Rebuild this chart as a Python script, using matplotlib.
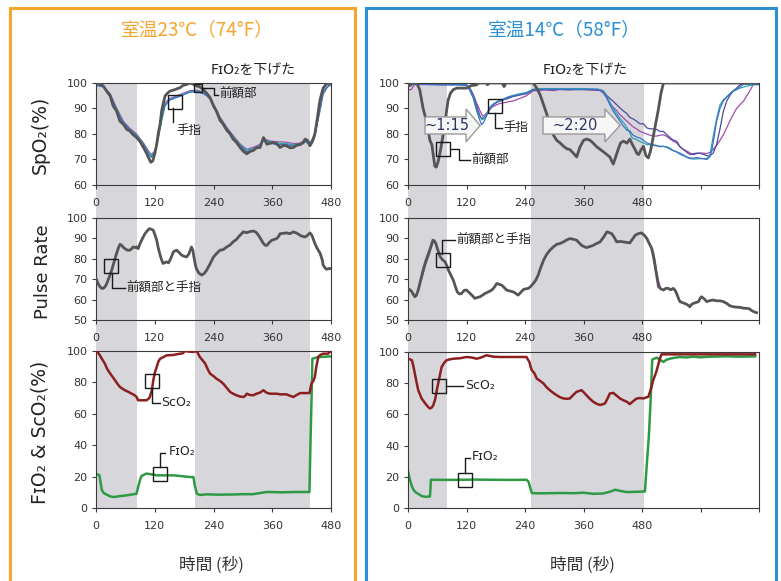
#!/usr/bin/env python

import numpy
import matplotlib
matplotlib.use("Agg")
import matplotlib.pyplot as plt
from matplotlib.patches import Rectangle, Polygon

JP = ['Noto Sans CJK JP', 'DejaVu Sans']
LAT = ['DejaVu Sans', 'Noto Sans CJK JP']

# ---------------- 23C (74F) room ----------------
warm_spo2_head = [(0, 100), (8, 99.6), (15, 98.8), (22, 96.7), (29, 94.9), (35, 91), (42, 89), (49, 85),
                  (56, 83.8), (63, 81.8), (69, 81.2), (76, 79.7), (83, 78.6), (90, 77), (97, 74.7),
                  (103, 72.5), (107, 70.8), (112, 68.9), (116, 69.5), (120, 72.2), (124, 76), (127, 80),
                  (131, 84), (134, 89), (138, 92.5), (141, 94.9), (146, 96), (151, 96.8), (158, 97.2),
                  (165, 97.7), (172, 98.2), (178, 99.1), (185, 99.4), (192, 100), (199, 99.5), (206, 98.8),
                  (212, 98.5), (219, 97.5), (226, 96), (233, 94.3), (240, 91), (246, 89), (253, 85.5),
                  (260, 83.8), (267, 81.5), (274, 80), (280, 78), (287, 76.7), (294, 74.8), (301, 73.2),
                  (308, 72.2), (315, 73.2), (321, 73.5), (328, 74.6), (335, 74.7), (342, 78.6), (345, 77.5),
                  (349, 76), (355, 76.3), (362, 76.7), (369, 76.2), (376, 74.7), (383, 75.5), (389, 75.4),
                  (396, 74.6), (403, 74.7), (410, 75.6), (417, 76), (423, 76.5), (427, 78), (432, 77.5),
                  (437, 75.4), (442, 77), (447, 80), (452, 86), (457, 92.8), (461, 96), (464, 98),
                  (470, 99.5), (478, 100), (480, 100)]
warm_spo2_blue = [(0, 99), (15, 98.5), (29, 95.5), (42, 89.5), (56, 84.2), (69, 81.6), (83, 79.2), (97, 75.5),
                  (107, 72), (113, 70.8), (120, 72.5), (127, 79), (134, 86), (141, 91.5), (151, 93.3),
                  (165, 94.3), (178, 95.3), (192, 96.4), (206, 96.6), (219, 95.8), (226, 95), (233, 93.6),
                  (240, 91), (253, 86), (267, 82), (280, 78.5), (294, 75.5), (308, 73), (321, 73.8),
                  (335, 75), (342, 77.5), (355, 76.5), (369, 75.8), (389, 75.8), (403, 75.3), (417, 75.5),
                  (427, 77), (437, 75.8), (447, 79), (457, 90), (464, 96.5), (472, 98.5), (480, 99.3)]
warm_spo2_teal = [(0, 99.4), (15, 98.6), (29, 95.2), (42, 89.8), (56, 84.5), (69, 81.8), (83, 79.6), (97, 76),
                  (107, 72.8), (113, 71.5), (120, 73), (127, 78), (134, 85), (141, 91), (151, 93.6),
                  (165, 94.6), (178, 95.6), (192, 96.6), (206, 96.9), (219, 96.2), (226, 95.3), (233, 93.8),
                  (240, 91.5), (253, 86.5), (267, 82.3), (280, 79), (294, 75.8), (308, 73.6), (321, 74.3),
                  (335, 75.5), (342, 77.8), (355, 77), (369, 76.5), (389, 76.2), (403, 75.8), (417, 76),
                  (427, 77.3), (437, 76.2), (447, 79.5), (457, 89), (464, 96), (472, 98.3), (480, 99.5)]
warm_spo2_purple = [(0, 99.2), (15, 98.9), (29, 95.8), (42, 90.3), (56, 85), (69, 82.3), (83, 80), (97, 76.5),
                    (107, 73.5), (113, 71.9), (120, 73.4), (127, 78.5), (134, 86.5), (141, 92.3), (151, 94),
                    (165, 95), (178, 96), (192, 97), (206, 97.2), (219, 96.5), (233, 94.2), (240, 91.8),
                    (253, 86.8), (267, 82.7), (280, 79.5), (294, 76.2), (308, 74), (321, 74.8), (335, 76),
                    (342, 78.2), (355, 77.3), (369, 77), (389, 76.8), (403, 76.3), (417, 76.4), (427, 77.8),
                    (437, 76.5), (447, 80), (457, 88.5), (464, 95.5), (472, 98.2), (480, 99.6)]

warm_pulse = [(0, 70.4), (4, 68), (8, 66.3), (12, 65.5), (15, 65.5), (19, 66.5), (22, 67.9), (27, 71),
              (32, 74.4), (37, 78.5), (42, 82.6), (46, 85.5), (49, 87.1), (53, 86.5), (56, 85.5), (59, 85),
              (64, 84.2), (69, 84.2), (73, 85), (76, 85.8), (80, 85.5), (83, 85.8), (86, 85), (90, 87.5),
              (95, 90), (100, 92.3), (105, 93.8), (109, 94.8), (113, 94.5), (117, 94), (120, 92), (124, 89.1),
              (127, 85.5), (131, 81.8), (134, 79.5), (137, 77.7), (141, 78.2), (144, 78.5), (148, 78),
              (151, 79.3), (155, 81.5), (158, 83.4), (162, 84), (165, 84.2), (170, 83), (175, 81.8),
              (180, 81.2), (185, 80.9), (190, 82.5), (195, 85.8), (198, 84), (200, 80.9), (203, 77),
              (205, 75.2), (210, 73), (216, 72), (221, 72.8), (226, 74.4), (233, 77.5), (240, 80.9),
              (246, 82.5), (253, 84.2), (260, 84.5), (267, 85.8), (274, 86.8), (280, 88.3), (287, 89.5),
              (291, 90.7), (296, 92), (301, 93.2), (308, 92.8), (315, 93.4), (322, 93.6), (327, 93),
              (332, 91.5), (337, 89.5), (342, 87.5), (346, 86.6), (349, 86.6), (354, 88), (359, 89.1),
              (364, 89.5), (369, 89.9), (373, 91), (376, 92.3), (383, 92.5), (389, 92.7), (396, 92.3),
              (403, 93.2), (410, 92.6), (417, 91.5), (422, 91), (427, 90.7), (432, 91.5), (437, 92.7),
              (441, 91.5), (444, 89.5), (447, 87.5), (452, 85), (458, 82.6), (462, 79.5), (464, 76.9),
              (468, 75.5), (471, 74.9), (476, 75.2), (480, 75.2)]

warm_sco2 = [(0, 100), (4, 99), (8, 97.2), (13, 94.5), (18, 92), (23, 88.5), (29, 85.6), (34, 83.5), (39, 81.3),
             (44, 79), (49, 77.1), (54, 76), (59, 75), (66, 74), (73, 72.8), (78, 72), (83, 70.7), (86, 68.6),
             (95, 68.6), (103, 68.6), (107, 69.5), (110, 70.7), (114, 75), (117, 81.3), (120, 86), (124, 89.8),
             (127, 93), (131, 95.1), (137, 96), (144, 97.2), (158, 97.5), (172, 98.3), (177, 98.5), (182, 100),
             (190, 99.6), (199, 99.4), (206, 100), (209, 98), (212, 96.2), (218, 94), (223, 92), (228, 88.5),
             (233, 85.6), (240, 84), (246, 82.4), (253, 81), (260, 79.2), (267, 76.5), (274, 73.9), (280, 72.8),
             (287, 71.8), (294, 71), (301, 70.7), (305, 71.5), (308, 72.8), (314, 72), (321, 71.8), (328, 72.8),
             (335, 73.5), (342, 75), (348, 73.5), (355, 72.8), (362, 72.8), (369, 72.8), (376, 72.4),
             (383, 72.4), (389, 72.4), (396, 71.5), (403, 70.7), (410, 72), (417, 73.2), (426, 73.2),
             (436, 73.2), (440, 79.2), (444, 81), (447, 83.4), (450, 90), (454, 96.2), (458, 97.5), (464, 98.3),
             (470, 98.3), (474, 98.3), (478, 99.5), (480, 100)]
warm_fio2 = [(0, 21.9), (7, 20.8), (10, 15), (12, 11.3), (16, 9.5), (22, 8.5), (28, 7.5), (35, 7), (42, 7.2),
             (49, 7.6), (56, 7.8), (63, 8.1), (73, 8.6), (83, 9.1), (86, 13.4), (90, 18), (93, 20.4), (98, 21.2),
             (103, 21.9), (113, 21.5), (124, 20.8), (140, 20.8), (158, 20.8), (175, 20.3), (192, 19.7),
             (199, 19.7), (202, 14), (206, 9.1), (212, 8.3), (226, 8.7), (250, 8.5), (280, 8.6), (300, 8.8),
             (320, 8.8), (349, 10.2), (380, 10), (410, 10.2), (436, 10.2), (438, 40), (440, 66.5), (442, 95.1),
             (450, 95.8), (457, 96.2), (470, 96.4), (480, 96.6)]

# ---------------- 14C (58F) room ----------------
cold_spo2_head = [(0, 99.3), (4, 99), (8, 99.8), (11, 100), (18, 100), (24, 97.4), (31, 90), (38, 85),
                  (45, 77.5), (49, 75.8), (52, 71.5), (55, 67.4), (58, 67), (62, 69.3), (67, 74), (72, 79.7),
                  (77, 86), (82, 93), (87, 96), (93, 97.4), (100, 98), (110, 98), (120, 98), (130, 99),
                  (140, 99.2), (145, 100), (160, 100), (163, 99.3), (167, 100), (193, 100), (197, 98.6),
                  (201, 100), (257, 100), (264, 98), (271, 95.4), (278, 91.5), (285, 87.6), (291, 83.5),
                  (298, 79.7), (305, 77.5), (312, 76.5), (319, 75.2), (326, 74.2), (332, 73.9), (339, 72.5),
                  (346, 71), (353, 75), (360, 77.5), (366, 78), (373, 77.6), (380, 76.4), (387, 75), (394, 74),
                  (401, 73), (408, 71.9), (414, 71), (421, 68.2), (426, 71), (431, 73.9), (436, 76.5),
                  (442, 77.2), (449, 76.4), (455, 78), (462, 75.2), (466, 73.9), (469, 72.5), (473, 71.9),
                  (478, 73.8), (483, 75.2), (488, 71.5), (493, 70.6), (497, 73), (500, 75.8), (506, 82),
                  (513, 89), (519, 96), (524, 100), (720, 100)]
cold_spo2_blue = [(0, 99.3), (20, 99.5), (60, 99.3), (100, 99.3), (120, 99), (127, 97), (134, 94), (141, 89),
                  (148, 85), (151, 83.7), (155, 84.5), (162, 87.5), (168, 90), (175, 91.5), (182, 92.5),
                  (189, 93), (196, 93.5), (203, 94.2), (216, 94.9), (230, 95.5), (243, 96), (250, 96.7),
                  (257, 97.4), (270, 97.5), (300, 97.5), (330, 97.5), (360, 97.5), (390, 97.5), (400, 96.5),
                  (407, 94.5), (414, 91.5), (421, 89), (428, 87), (435, 85), (442, 83), (449, 81.5),
                  (455, 81.2), (462, 79.5), (469, 78.8), (476, 78.4), (483, 77.5), (490, 76.5), (497, 76),
                  (503, 75.8), (510, 75.5), (517, 75), (524, 75.2), (531, 74.8), (538, 74), (544, 73.5),
                  (551, 73), (558, 72.5), (565, 71.8), (572, 71), (579, 70.6), (586, 70.5), (592, 70.8),
                  (599, 70.5), (606, 70.3), (613, 70), (619, 71), (623, 73.3), (628, 79), (633, 85), (640, 90),
                  (647, 93), (654, 94.5), (660, 95.5), (667, 96.8), (674, 97.4), (681, 98.5), (688, 99.5),
                  (700, 99.6), (720, 99.5)]
cold_spo2_teal = [(0, 99.6), (30, 99.6), (60, 99.4), (100, 99.4), (120, 99.2), (127, 97.5), (134, 94.5),
                  (141, 89.5), (148, 86.5), (152, 85.6), (156, 86), (162, 88), (168, 90.5), (175, 91.8),
                  (182, 92.6), (189, 93.3), (196, 93.8), (203, 94.4), (216, 95.2), (230, 95.8), (243, 96.3),
                  (250, 96.9), (257, 97.6), (270, 97.8), (300, 97.8), (330, 97.8), (360, 97.8), (390, 97.6),
                  (400, 96.8), (407, 95), (414, 92.5), (421, 90), (428, 88), (435, 86), (442, 84.5), (449, 82.5),
                  (455, 80.5), (460, 78.4), (469, 77.8), (476, 77), (483, 76.5), (490, 75.8), (497, 75.8),
                  (503, 75.5), (517, 75.2), (531, 75), (538, 74.4), (544, 73.5), (551, 73), (558, 72),
                  (565, 71.5), (572, 70.8), (579, 70.3), (586, 70.2), (599, 70.3), (613, 70.4), (619, 71.5),
                  (626, 79), (633, 86), (640, 91.4), (647, 93.5), (654, 94.6), (661, 96), (667, 97), (681, 98),
                  (695, 98.8), (708, 99.3), (720, 99.3)]
cold_spo2_purple = [(0, 97.4), (7, 97.4), (10, 98.5), (14, 99.4), (40, 99.4), (80, 99.3), (110, 99.3),
                    (120, 99.3), (127, 98), (134, 95.5), (141, 92), (148, 89), (153, 87), (158, 87.5), (165, 89),
                    (172, 90.5), (182, 91.5), (189, 92), (203, 92.5), (216, 93), (230, 94), (243, 95), (250, 96),
                    (257, 97), (265, 97), (280, 97.3), (300, 97), (310, 97.6), (330, 97.3), (350, 97.6),
                    (370, 97.3), (394, 97), (401, 96), (408, 94), (414, 92), (421, 90.5), (428, 89.2),
                    (435, 87.5), (442, 86.3), (449, 85), (455, 84), (462, 82.8), (469, 82), (476, 81), (483, 80.5),
                    (490, 80), (497, 79.5), (503, 79.2), (510, 79.2), (517, 79.5), (524, 79.7), (531, 79),
                    (538, 78), (544, 77.2), (551, 76.5), (558, 75), (565, 73.9), (572, 73.3), (579, 72.5),
                    (586, 71.9), (592, 72.3), (599, 72.5), (606, 72.5), (613, 72.3), (619, 72.8), (626, 73.9),
                    (633, 75.5), (640, 77.5), (647, 79.7), (654, 82.5), (660, 85), (667, 87.6), (674, 90),
                    (681, 91.5), (688, 92.8), (695, 95), (701, 96.8), (708, 99.4), (720, 99.5)]
cold_spo2_navy = [(0, 99.6), (40, 99.6), (100, 99.5), (120, 99.3), (127, 97.8), (134, 95), (141, 91), (148, 87),
                  (152, 86), (158, 86.8), (165, 89), (172, 91), (182, 92.4), (189, 93), (203, 93.8), (216, 94.7),
                  (230, 95.3), (243, 95.8), (257, 97.2), (270, 97.4), (300, 97.4), (330, 97.4), (360, 97.4),
                  (394, 97.4), (401, 96.8), (408, 95), (414, 94), (421, 92.8), (428, 91.5), (435, 90.2),
                  (442, 89), (449, 88), (455, 86.5), (462, 85.9), (469, 85), (476, 84), (483, 84), (490, 82.4),
                  (497, 82), (503, 82), (510, 81.8), (517, 81), (524, 81), (531, 79.7), (538, 78.5), (544, 77.6),
                  (551, 77.2), (558, 75), (565, 73.9), (572, 72.8), (579, 71.9), (586, 72.3), (592, 72.5),
                  (599, 72.5), (606, 72), (613, 71.5), (619, 71.4), (626, 72.5), (633, 75.8), (640, 82),
                  (647, 89), (654, 93), (661, 95.4), (667, 96.8), (674, 98), (681, 99.3), (695, 99.8),
                  (720, 99.8)]

cold_pulse = [(0, 65.5), (4, 64.8), (8, 63.8), (11, 62.5), (14, 61.4), (17, 62), (21, 64.7), (26, 69.5),
              (31, 74.4), (36, 78.5), (42, 82.6), (47, 86), (51, 89.1), (54, 88.8), (57, 87.5), (61, 84.5),
              (66, 81), (71, 79.5), (76, 78.5), (80, 76.5), (83, 74.4), (88, 72), (93, 69.5), (97, 66.5),
              (101, 63.8), (105, 62.8), (110, 63), (115, 64.5), (120, 64.7), (125, 63.5), (131, 62.2),
              (137, 60.6), (142, 61), (148, 61.4), (153, 62.2), (158, 63), (165, 63.8), (172, 64.7), (177, 66),
              (182, 67.9), (187, 67.5), (192, 67.1), (197, 66), (202, 64.7), (209, 64.2), (216, 63.8), (221, 63),
              (226, 62.2), (231, 63.5), (237, 65), (242, 65.3), (247, 65.5), (252, 66.5), (257, 67.9),
              (262, 69.5), (267, 72), (272, 75.5), (278, 79.3), (284, 82), (291, 84.2), (298, 85.8),
              (305, 87.1), (312, 87.5), (319, 88.3), (326, 89.3), (332, 89.9), (339, 89.6), (346, 89.1),
              (351, 87.8), (356, 86.6), (361, 86), (366, 85.5), (373, 86), (380, 86.6), (387, 87.5), (394, 88.3),
              (401, 90.5), (408, 93.2), (413, 92.8), (418, 92.3), (423, 90.5), (428, 88.3), (435, 88.5),
              (442, 88.3), (449, 88), (455, 87.8), (460, 89.5), (466, 91.5), (472, 92.3), (479, 92.7),
              (485, 91.5), (490, 89.9), (495, 87.5), (500, 85), (504, 80.5), (507, 76.1), (511, 70.5),
              (514, 66.3), (519, 65.2), (524, 64.7), (529, 65.5), (534, 65.5), (539, 64.8), (544, 65.5),
              (548, 64.5), (551, 63), (555, 60.5), (558, 59), (563, 58.5), (568, 58.1), (573, 57.5), (578, 56.5),
              (581, 57.5), (585, 58.1), (590, 58.5), (596, 59), (599, 60.5), (602, 61.4), (607, 60.5), (613, 59),
              (619, 59.5), (626, 59.8), (633, 59.4), (640, 59.4), (647, 59), (654, 58.1), (660, 57), (667, 56.5),
              (674, 56.3), (681, 56.2), (688, 55.8), (695, 55.7), (700, 55.5), (705, 54.6), (710, 54),
              (715, 53.6)]
cold_pulse_purple_a = [(20, 64), (26, 68.5), (31, 72.5), (36, 77), (42, 81), (47, 84.8), (51, 88)]
cold_pulse_purple_b = [(500, 85.5), (504, 82.5), (507, 79), (510, 74), (514, 69), (518, 66)]

cold_sco2 = [(0, 95.7), (4, 95.3), (8, 94.7), (11, 91), (14, 86.2), (18, 80), (21, 75.5), (25, 72.5), (28, 70.2),
             (33, 68), (38, 66), (42, 64.5), (45, 63.8), (49, 64.5), (52, 66), (56, 70), (59, 75.5), (64, 83),
             (69, 90.4), (74, 93), (79, 94.7), (86, 95.3), (93, 95.7), (107, 96), (120, 96.8), (130, 96.5),
             (141, 95.7), (150, 96.5), (161, 97.9), (175, 97), (189, 96.8), (210, 96.8), (230, 96.8),
             (243, 96.8), (249, 93.6), (252, 90), (254, 88.3), (257, 87.2), (260, 86), (264, 83), (271, 81.5),
             (278, 79.8), (284, 77.5), (291, 75.5), (298, 73.8), (305, 72.3), (312, 71), (319, 70.2), (326, 70),
             (332, 70.2), (339, 72.5), (346, 74.5), (351, 75), (356, 75.5), (361, 74), (366, 72.3), (373, 70),
             (380, 68.1), (387, 66.8), (394, 66), (399, 66.5), (404, 67), (409, 70), (414, 73.4), (421, 73.8),
             (428, 72), (435, 70.2), (442, 69), (449, 68.1), (455, 66.6), (462, 68.5), (469, 70.2), (476, 70.5),
             (483, 70.2), (488, 70.8), (493, 71.3), (498, 76), (503, 81.9), (509, 87), (514, 92.6), (517, 96),
             (520, 98.5), (550, 98.5), (600, 98.5), (650, 98.5), (700, 98.5), (712, 98.5)]
cold_fio2 = [(0, 23.4), (4, 18.1), (8, 14), (11, 11.7), (16, 10), (21, 9.1), (26, 8), (31, 7.4), (38, 7.2),
             (45, 7.4), (46, 12), (47, 18.1), (52, 18.1), (80, 18), (107, 18.1), (140, 18.2), (175, 18.1),
             (210, 18), (243, 18.1), (247, 17), (250, 13.8), (254, 9.6), (270, 9.4), (290, 9.5), (312, 9.6),
             (340, 9.5), (360, 9.8), (380, 9.1), (400, 9.3), (415, 10.5), (425, 11.7), (435, 11), (449, 10.2),
             (470, 10.4), (486, 10.6), (490, 28.7), (494, 45.7), (498, 71.3), (501, 95.1), (510, 96.4),
             (517, 95), (524, 93.6), (530, 95), (537, 95.7), (545, 96.2), (558, 96.8), (570, 96.5), (585, 97),
             (600, 96.6), (620, 97), (654, 97.2), (680, 97), (712, 97.2)]

# periods of lowered FIO2 (seconds)
warm_shade = [(0, 84), (202, 437)]
cold_shade = [(0, 80), (252, 484)]

W, H = 781, 581
HEAD = '#555555'
BLUE, TEAL, PURPLE, NAVY = '#3f6fc8', '#2aa3a8', '#a24bb0', '#4a4a9e'
RED, GREEN = '#8c1f1f', '#2f9a45'
SHADE = '#d6d6db'


def rect(x0, y0, x1, y1):
    return [x0/W, 1 - y1/H, (x1 - x0)/W, (y1 - y0)/H]


def series(ax, pts, color, lw, z=2):
    arr = numpy.array(pts, dtype=float)
    ax.plot(arr[:, 0], arr[:, 1], color=color, lw=lw, zorder=z, solid_joinstyle='round')


def make_axes(fig, x0, x1, y0, y1, tmax, yticks, nlabels):
    ax = fig.add_axes(rect(x0, y0, x1, y1))
    ax.set_facecolor('none')
    ax.set_xlim(0, tmax)
    ax.set_ylim(yticks[0], yticks[-1])
    xt = list(range(0, tmax + 1, 120))
    ax.set_xticks(xt)
    ax.set_xticklabels([str(v) if i < nlabels else '' for i, v in enumerate(xt)])
    ax.set_yticks(yticks)
    ax.tick_params(direction='out', length=3, width=0.8, color='#3a3a3a',
                   labelsize=8, labelcolor='#333333')
    ax.tick_params(axis='x', pad=6.5)
    ax.tick_params(axis='y', pad=3)
    for s in ax.spines.values():
        s.set_color('#3a3a3a')
        s.set_linewidth(0.8)
    return ax


def callout(ax, sq, size, path, label, at, family=JP, fs=9):
    ax.plot([sq[0]], [sq[1]], marker='s', ms=size, mfc='none', mec='#1a1a1a', mew=1.0,
            zorder=6, clip_on=False)
    xs, ys = zip(*path)
    ax.plot(xs, ys, color='#1a1a1a', lw=1.0, zorder=6, clip_on=False)
    ax.text(at[0], at[1], label, ha='left', va='center', fontsize=fs, family=family,
            color='#222222', zorder=6)


def block_arrow(ax, t0, t1, tip, text):
    lo, hi, hlo, hhi = 80.0, 86.7, 76.9, 89.8
    mid = 0.5*(lo + hi)
    pts = [(t0, hi), (t1, hi), (t1, hhi), (tip, mid), (t1, hlo), (t1, lo), (t0, lo)]
    ax.add_patch(Polygon(pts, closed=True, facecolor='#f6f6f6', edgecolor='#9a9a9a',
                         lw=1.0, zorder=5))
    ax.text(0.5*(t0 + t1) + 2, mid, text, ha='center', va='center', fontsize=10.5,
            family=LAT, color='#2b3566', zorder=6)


def shade_axes(fig, x0, x1, tmax, spans):
    bg = fig.add_axes(rect(x0, 83, x1, 508))
    bg.set_xlim(0, tmax)
    bg.set_ylim(0, 1)
    for a, b in spans:
        bg.axvspan(a, b, color=SHADE, lw=0)
    bg.axis('off')
    return bg


fig = plt.figure(figsize=(W/100, H/100), dpi=100)

# column frames
fig.add_artist(Rectangle((10/W, 1 - 600/H), 345/W, 592/H, transform=fig.transFigure,
                         fill=False, edgecolor='#f6a52f', lw=2.2))
fig.add_artist(Rectangle((366/W, 1 - 600/H), 410/W, 592/H, transform=fig.transFigure,
                         fill=False, edgecolor='#2c8fd4', lw=2.2))

# ---- left column: 23C ----
shade_axes(fig, 96, 331, 480, warm_shade)
ax = make_axes(fig, 96, 331, 83, 185, 480, [60, 70, 80, 90, 100], 5)
series(ax, warm_spo2_purple, PURPLE, 0.8)
series(ax, warm_spo2_teal, TEAL, 0.9)
series(ax, warm_spo2_blue, BLUE, 0.9)
series(ax, warm_spo2_head, HEAD, 2.0, z=3)
callout(ax, (161, 92.7), 10, [(158, 90.2), (158, 84.9)], '手指', (164, 81.4))
callout(ax, (208.6, 98.0), 6, [(217.5, 98.2), (240, 98.2), (240, 95.3), (250, 95.3)], '前額部', (252, 95.4))

ax = make_axes(fig, 96, 331, 218, 320, 480, [50, 60, 70, 80, 90, 100], 5)
series(ax, warm_pulse, HEAD, 2.0, z=3)
callout(ax, (30.6, 76.5), 10, [(32.7, 73.0), (32.7, 65.7), (59, 65.7)], '前額部と手指', (62, 65.7))

ax = make_axes(fig, 96, 331, 351, 508, 480, [0, 20, 40, 60, 80, 100], 5)
series(ax, warm_fio2, GREEN, 1.8)
series(ax, warm_sco2, RED, 1.8, z=3)
callout(ax, (115.4, 80.6), 10, [(114.4, 76.4), (114.4, 66.9), (130.7, 66.9)], 'SᴄO₂', (134, 67.2), family=LAT)
callout(ax, (130.7, 21.7), 10, [(130.7, 26.1), (130.7, 35), (141, 35)], 'FɪO₂', (149, 35.8), family=LAT)

# ---- right column: 14C ----
shade_axes(fig, 408, 759, 720, cold_shade)
ax = make_axes(fig, 408, 759, 83, 185, 720, [60, 70, 80, 90, 100], 5)
series(ax, cold_spo2_purple, PURPLE, 0.9)
series(ax, cold_spo2_navy, NAVY, 0.9)
series(ax, cold_spo2_teal, TEAL, 0.9)
series(ax, cold_spo2_blue, BLUE, 0.9)
series(ax, cold_spo2_head, HEAD, 2.0, z=3)
block_arrow(ax, 35, 119, 148, '~1:15')
block_arrow(ax, 277, 404, 435, '~2:20')
callout(ax, (178.5, 91.0), 10, [(178.5, 88.1), (178.5, 82.2), (192, 82.2)], '手指', (195, 82.4))
callout(ax, (71.8, 74.1), 10, [(86.2, 74.1), (104.6, 74.1), (104.6, 69.8), (127, 69.8)], '前額部', (130, 69.8))

ax = make_axes(fig, 408, 759, 218, 320, 720, [50, 60, 70, 80, 90, 100], 5)
series(ax, cold_pulse_purple_a, PURPLE, 0.9)
series(ax, cold_pulse_purple_b, PURPLE, 0.9)
series(ax, cold_pulse, HEAD, 2.0, z=3)
callout(ax, (70.8, 79.2), 10, [(69.7, 82.4), (69.7, 89.2), (96.4, 89.2)], '前額部と手指', (99, 89.2))

ax = make_axes(fig, 408, 759, 352, 508, 720, [0, 20, 40, 60, 80, 100], 5)
series(ax, cold_fio2, GREEN, 1.8)
series(ax, cold_sco2, RED, 1.8, z=3)
callout(ax, (63.6, 78.2), 10, [(78, 78.2), (112.8, 78.2)], 'SᴄO₂', (117, 78.4), family=LAT)
callout(ax, (117, 17.9), 10, [(117, 22.4), (117, 32), (127, 32)], 'FɪO₂', (131, 32.8), family=LAT)


# titles and labels
def ftext(x, y, s, **kw):
    fig.text(x/W, 1 - y/H, s, ha='center', va='center', **kw)


ftext(197, 30, '室温23℃（74°F）', fontsize=13.5, family=JP, color='#f6a52f')
ftext(564, 30, '室温14℃（58°F）', fontsize=13.5, family=JP, color='#2c8fd4')
ftext(253, 70, 'FɪO₂を下げた', fontsize=10, family=LAT, color='#222222')
ftext(585, 70, 'FɪO₂を下げた', fontsize=10, family=LAT, color='#222222')
ftext(40, 135, 'SpO₂(%)', fontsize=13.5, family=LAT, rotation=90, color='#222222')
ftext(43, 272, 'Pulse Rate', fontsize=13, family=LAT, rotation=90, color='#222222')
ftext(40, 432, 'FɪO₂ & ScO₂(%)', fontsize=13.5, family=LAT, rotation=90, color='#222222')
ftext(211, 565, '時間 (秒)', fontsize=12, family=JP, color='#333333')
ftext(582, 565, '時間 (秒)', fontsize=12, family=JP, color='#333333')

fig.savefig('out.png', dpi=100)
